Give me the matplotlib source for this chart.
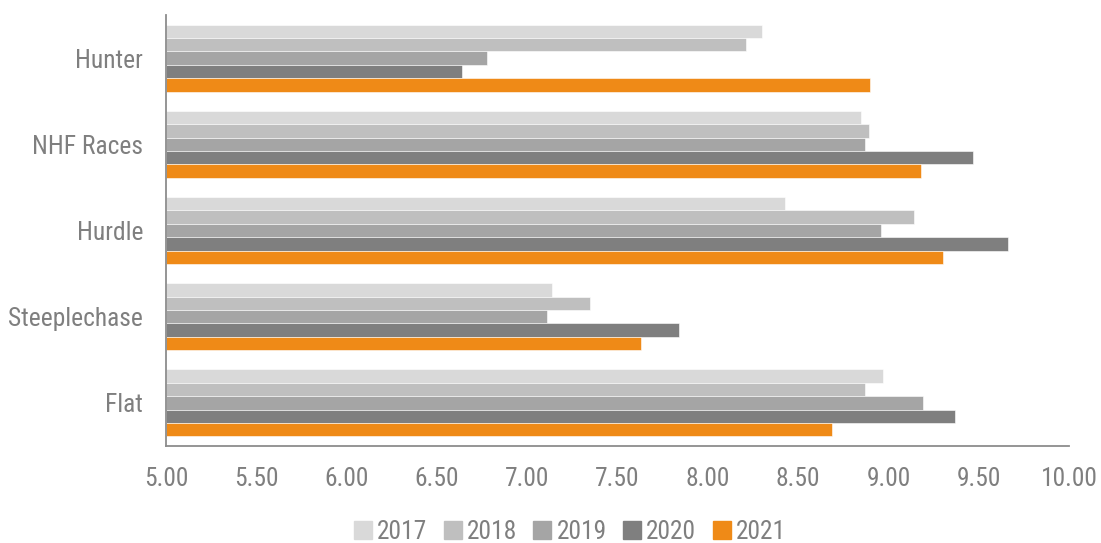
import matplotlib
matplotlib.use("Agg")
import matplotlib.pyplot as plt
import numpy as np
from matplotlib.lines import Line2D
from matplotlib import font_manager as fm
from matplotlib.textpath import TextPath

categories = ["Hunter", "NHF Races", "Hurdle", "Steeplechase", "Flat"]
years = ["2017", "2018", "2019", "2020", "2021"]
v2017 = [8.30, 8.85, 8.43, 7.14, 8.97]
v2018 = [8.21, 8.89, 9.14, 7.35, 8.87]
v2019 = [6.78, 8.87, 8.96, 7.11, 9.19]
v2020 = [6.64, 9.47, 9.66, 7.84, 9.37]
v2021 = [8.90, 9.18, 9.30, 7.63, 8.69]
series = [v2017, v2018, v2019, v2020, v2021]
colors = ["#d9d9d9", "#bfbfbf", "#a5a5a5", "#7f7f7f", "#ef8a17"]
xticks = [5.0, 5.5, 6.0, 6.5, 7.0, 7.5, 8.0, 8.5, 9.0, 9.5, 10.0]

# ---- pick a narrow sans font if one exists, else Liberation Sans ----
def pick_font():
    prefer = ["Liberation Sans Narrow", "Arial Narrow", "Roboto Condensed",
              "Open Sans Condensed", "DejaVu Sans Condensed", "Noto Sans Condensed"]
    entries = fm.fontManager.ttflist
    for p in prefer:
        for f in entries:
            if f.name == p and f.style == "normal" and f.weight in (400, "normal", "regular"):
                return fm.FontProperties(fname=f.fname)
    for f in entries:
        st = str(f.stretch)
        if ("condensed" in st and "semi" not in st) or (st.isdigit() and int(st) < 500):
            if f.style == "normal" and f.weight in (400, "normal", "regular") and \
               any(k in f.name for k in ["Liberation Sans", "DejaVu Sans", "Roboto", "Open Sans", "Noto Sans", "Lato", "Inter"]) \
               and "Mono" not in f.name:
                return fm.FontProperties(fname=f.fname)
    return fm.FontProperties(family="Liberation Sans")

fp = pick_font()
# size so that the longest label spans about the reference width (px at dpi 100)
w1 = TextPath((0, 0), "Steeplechase", size=1, prop=fp).get_extents().width
size_px = min(27.0, 133.0 / w1)
FS = size_px * 72 / 100.0
fp.set_size(FS)

TXT = "#7f7f7f"

fig = plt.figure(figsize=(11.01, 5.43), dpi=100)
ax = fig.add_axes([166/1101, 1-446/543, (1069-166)/1101, (446-15)/543])

n = len(series)
h = 0.155
y = np.arange(len(categories))
for i, (vals, c) in enumerate(zip(series, colors)):
    off = (i - (n - 1) / 2) * h
    ax.barh(y + off, np.array(vals) - 5.0, left=5.0, height=h, color=c,
            edgecolor="white", linewidth=0.4, label=years[i])

ax.set_xlim(5.0, 10.0)
ax.set_ylim(-0.5, len(categories) - 0.5)
ax.invert_yaxis()
ax.set_yticks(y)
ax.set_yticklabels(categories, fontproperties=fp, color=TXT)
ax.set_xticks(xticks)
ax.set_xticklabels([f"{t:.2f}" for t in xticks], fontproperties=fp, color=TXT)
ax.tick_params(axis='both', length=0)
ax.tick_params(axis='y', pad=16.5)
ax.tick_params(axis='x', pad=16 - (27 - size_px) * 0.7)
for s in ["top", "right"]:
    ax.spines[s].set_visible(False)
for s in ["left", "bottom"]:
    ax.spines[s].set_color("#8c8c8c")
    ax.spines[s].set_linewidth(1.3)

handles = [Line2D([0], [0], marker='s', linestyle='none', markersize=13,
                  markerfacecolor=c, markeredgecolor=c) for c in colors]
leg = fig.legend(handles, years, loc='center', bbox_to_anchor=(568/1101, 1-532/543),
                 ncol=5, frameon=False, prop=fp, labelcolor=TXT,
                 handletextpad=0.05, columnspacing=0.5, handlelength=1.0)

fig.savefig("out.png", dpi=100)
